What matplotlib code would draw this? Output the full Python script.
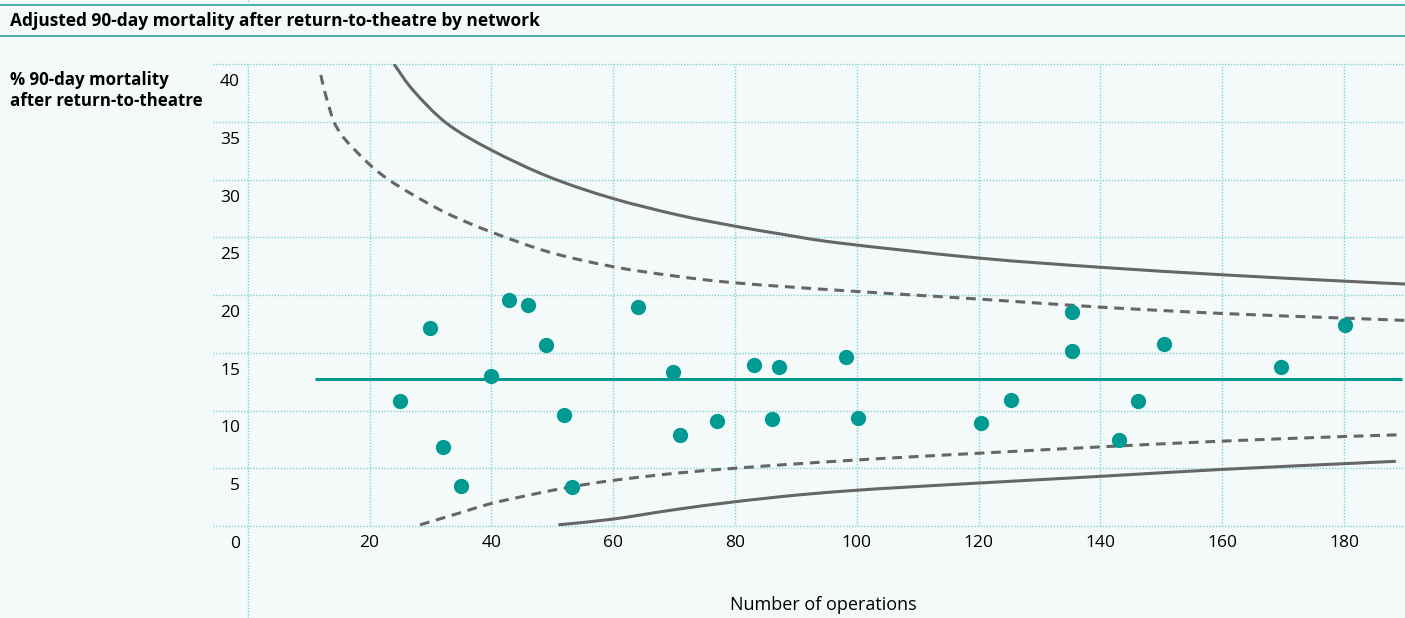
import matplotlib
matplotlib.use("Agg")
import matplotlib.pyplot as plt
import numpy as np
from matplotlib.lines import Line2D
from matplotlib.path import Path
from matplotlib.patches import PathPatch
from matplotlib.transforms import ScaledTranslation

plt.rcParams['font.family'] = ['Open Sans', 'DejaVu Sans']

# network results: number of operations vs adjusted 90-day mortality (%)
ops = [25.0, 30.0, 32.1, 35.0, 40.0, 42.9, 46.0, 48.9, 52.0, 53.2,
       64.0, 69.9, 71.0, 77.1, 83.2, 86.1, 87.3, 98.3, 100.2, 120.4,
       125.3, 135.3, 135.3, 143.0, 146.1, 150.4, 169.6, 180.2]
mortality = [10.85, 17.1, 6.8, 3.5, 13.0, 19.6, 19.15, 15.7, 9.6, 3.4,
             19.0, 13.3, 7.9, 9.1, 13.9, 9.3, 13.8, 14.6, 9.35, 8.9,
             10.9, 18.5, 15.15, 7.45, 10.8, 15.8, 13.8, 17.4]

national_rate = 12.7
national_span = [11.0, 189.5]

# control limits (funnel)
upper998_x = [24.0, 27.2, 32.7, 40.0, 49.6, 60.0, 70.9, 80.1, 87.3, 97.2, 120.0, 140.0, 160.0, 180.0, 190.0]
upper998_y = [40.0, 37.7, 34.85, 32.55, 30.2, 28.35, 26.9, 25.95, 25.3, 24.5, 23.2, 22.4, 21.75, 21.2, 20.95]
upper95_x = [12.0, 12.7, 14.05, 15.3, 16.8, 20.0, 23.1, 27.7, 33.2, 40.0, 49.6, 60.0, 70.0, 80.1, 97.2,
             120.0, 140.0, 160.0, 180.0, 190.0]
upper95_y = [39.05, 37.5, 35.15, 33.95, 33.0, 31.3, 30.0, 28.5, 26.95, 25.45, 23.7, 22.45, 21.65, 21.05, 20.4,
             19.65, 18.95, 18.4, 18.0, 17.8]
lower95_x = [28.3, 34.6, 40.0, 46.9, 53.2, 60.0, 69.9, 80.0, 90.6, 100.1, 107.0, 120.0, 140.0, 160.0,
             180.2, 189.5]
lower95_y = [0.1, 1.1, 1.95, 2.75, 3.4, 3.95, 4.55, 5.0, 5.4, 5.72, 5.93, 6.3, 6.85, 7.35, 7.75, 7.9]
lower998_x = [51.0, 60.0, 69.9, 80.0, 90.6, 100.1, 107.0, 120.0, 140.0, 160.0, 180.2, 188.5]
lower998_y = [0.1, 0.6, 1.4, 2.1, 2.7, 3.1, 3.33, 3.72, 4.3, 4.9, 5.4, 5.6]

xticks = [20, 40, 60, 80, 100, 120, 140, 160, 180]
yticks = [0, 5, 10, 15, 20, 25, 30, 35, 40]

TEAL = '#009a92'
GRID = '#7fd3cf'
LIMIT = '#666666'
BG = '#f4fafa'
W, H = 1405, 618


def smooth_path(xs, ys):
    # Catmull-Rom through the points, written as cubic Bezier segments
    p = np.column_stack([xs, ys]).astype(float)
    ext = np.vstack([2 * p[0] - p[1], p, 2 * p[-1] - p[-2]])
    verts = [p[0]]
    codes = [Path.MOVETO]
    for i in range(1, len(ext) - 2):
        p0, p1, p2, p3 = ext[i - 1], ext[i], ext[i + 1], ext[i + 2]
        verts += [p1 + (p2 - p0) / 6, p2 - (p3 - p1) / 6, p2]
        codes += [Path.CURVE4] * 3
    return Path(verts, codes)


fig = plt.figure(figsize=(W / 100, H / 100), dpi=100, facecolor=BG)
ax = fig.add_axes([247.7 / W, (H - 526) / H, (W - 247.7) / W, 462 / H])
ax.set_facecolor(BG)
ax.set_xlim(0, 190)
ax.set_ylim(0, 40)
for s in ax.spines.values():
    s.set_visible(False)

# dotted grid, horizontal lines run a little past the y axis
ax.hlines(yticks, -5.7, 190, colors=GRID, linewidth=1, linestyles=(0, (1, 1.2)), clip_on=False, zorder=0)
ax.vlines(xticks, 0, 40, colors=GRID, linewidth=1, linestyles=(0, (1, 1.2)), zorder=0)
ax.vlines([0], -7.97, 40, colors=GRID, linewidth=1, linestyles=(0, (1, 1.2)), clip_on=False, zorder=0)

for xs, ys in [(upper998_x, upper998_y), (lower998_x, lower998_y)]:
    ax.add_patch(PathPatch(smooth_path(xs, ys), fill=False, edgecolor=LIMIT, linewidth=2.2,
                           capstyle='butt', zorder=3))
for xs, ys in [(upper95_x, upper95_y), (lower95_x, lower95_y)]:
    ax.add_patch(PathPatch(smooth_path(xs, ys), fill=False, edgecolor=LIMIT, linewidth=2.2,
                           linestyle=(0, (3.2, 2.2)), capstyle='butt', zorder=3))
ax.plot(national_span, [national_rate, national_rate], color=TEAL, linewidth=2.2, solid_capstyle='butt')
ax.plot(ops, mortality, 'o', color=TEAL, markersize=11, markeredgewidth=0, zorder=5)

ax.set_xticks(xticks)
ax.set_yticks(yticks)
ax.tick_params(axis='both', length=0, labelsize=12.5, colors='black')
ax.tick_params(axis='x', pad=6.5)
ax.tick_params(axis='y', pad=5.5)
shift = ScaledTranslation(0, -16 / 100, fig.dpi_scale_trans)
for lab in ax.get_yticklabels():
    lab.set_transform(lab.get_transform() + shift)

# header rules
fig.add_artist(Line2D([0, 1], [1 - 4.5 / H, 1 - 4.5 / H], color='#2f9f98', linewidth=1.2))
fig.add_artist(Line2D([0, 1], [1 - 36 / H, 1 - 36 / H], color='#2f9f98', linewidth=1.2))
fig.add_artist(Line2D([247.7 / W, 247.7 / W], [1, 1 - 4.5 / H], color=GRID, linewidth=1, linestyle=(0, (1, 1.2))))

fig.text(10 / W, 1 - 21 / H, 'Adjusted 90-day mortality after return-to-theatre by network',
         fontsize=12.5, fontweight='bold', va='center', ha='left')
fig.text(10 / W, 1 - 80 / H, '% 90-day mortality', fontsize=12.2, fontweight='bold', va='center')
fig.text(10 / W, 1 - 101 / H, 'after return-to-theatre', fontsize=12.2, fontweight='bold', va='center')
fig.text(823 / W, 1 - 605 / H, 'Number of operations', fontsize=13, ha='center', va='center')

fig.savefig('out.png', dpi=100, facecolor=BG)
